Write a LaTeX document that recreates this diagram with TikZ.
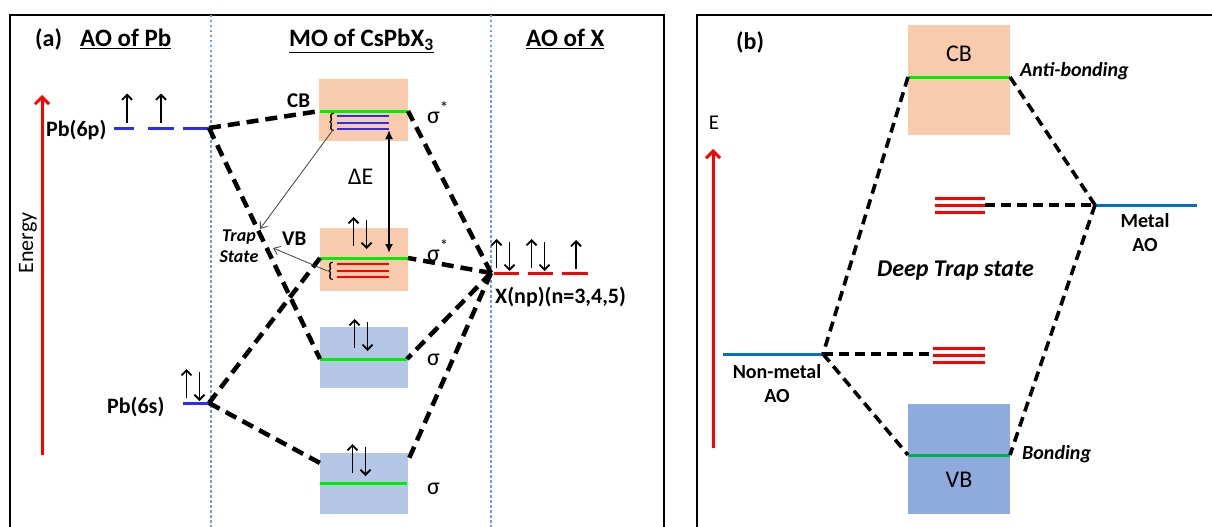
\documentclass[tikz,border=0pt]{standalone}
\usepackage{fontspec}
\setmainfont{Carlito}
\usetikzlibrary{arrows.meta}
\definecolor{boxor}{HTML}{F8CBAD}
\definecolor{boxbl}{HTML}{B4C7E7}
\definecolor{boxbd}{HTML}{8FAADC}
\definecolor{lgreen}{HTML}{00EE00}
\definecolor{dgreen}{HTML}{00B050}
\definecolor{lvblue}{HTML}{2B2BFF}
\definecolor{aoblue}{HTML}{0070C0}
\definecolor{sepblue}{HTML}{6F9BD8}
\definecolor{trapgray}{HTML}{404040}
\newcommand\fsz[1]{\fontsize{#1}{#1}\selectfont}
\begin{document}
\begin{tikzpicture}[x=1pt,y=-1pt,
  frame/.style={line width=1.6pt},
  sep/.style={sepblue, line width=1.2pt, dash pattern=on 2.5pt off 2.5pt},
  obox/.style={fill=boxor, draw=none, inner sep=0, anchor=north west},
  bbox/.style={fill=boxbl, draw=none, inner sep=0, anchor=north west},
  dbox/.style={fill=boxbd, draw=none, inner sep=0, anchor=north west},
  glev/.style={lgreen, line width=3pt},
  blev/.style={lvblue, line width=3pt},
  rlev/.style={red, line width=3pt},
  alev/.style={aoblue, line width=3pt},
  conA/.style={line width=4.5pt, dash pattern=on 12pt off 7pt},
  conB/.style={line width=3.6pt, dash pattern=on 10pt off 6pt},
  earrow/.style={red, line width=3pt, -{Straight Barb[length=7pt,width=14pt]}},
  spin/.style={line width=1.8pt, -{Straight Barb[length=5pt,width=10pt]}},
  traparr/.style={trapgray, line width=0.8pt, -{Straight Barb[length=6pt,width=9pt]}},
  gap/.style={line width=2pt, {Latex[length=9pt,width=8pt]}-{Latex[length=9pt,width=8pt]}},
  lab/.style={inner sep=0, anchor=base west},
  pics/up/.style={code={\draw[spin] (0,14) -- (0,-15);}},
  pics/ud/.style={code={\draw[spin] (-6.5,13) -- (-6.5,-16); \draw[spin] (6.5,-13) -- (6.5,16);}}
]
\useasboundingbox (0,0) rectangle (1212,527);
% frames
\draw[frame] (10,527) -- (10,15) -- (664,15) -- (664,527);
\draw[frame] (697,527) -- (697,15) -- (1213,15);
% separators
\draw[sep] (211,15) -- (211,527);
\draw[sep] (491,15) -- (491,527);

% ===== panel (a) boxes
\node[obox, minimum width=89pt, minimum height=62pt] (cbA) at (319,79) {};
\node[obox, minimum width=88pt, minimum height=63pt] (vbA) at (320,228) {};
\node[bbox, minimum width=88pt, minimum height=61pt] (sgA) at (320,327) {};
\node[bbox, minimum width=88pt, minimum height=61pt] (sgB) at (320,453) {};

% coordinates
\coordinate (p6) at (209,128);
\coordinate (s6) at (209,403);
\coordinate (xj) at (491,273);
\coordinate (cbL) at (320,111);
\coordinate (cbR) at (408,111);
\coordinate (vbL) at (320,258);
\coordinate (vbR) at (408,258);
\coordinate (mdL) at (320,359);
\coordinate (mdR) at (407,359);
\coordinate (btL) at (320,463);
\coordinate (btR) at (407,463);

% levels
\draw[glev] (cbL) -- (cbR);
\draw[glev] (vbL) -- (vbR);
\draw[glev] (mdL) -- (mdR);
\draw[glev] (320,483) -- (407,483);
\foreach \yy in {116,123,129} \draw[blev, line width=2.4pt] (337,\yy) -- (389,\yy);
\foreach \yy in {264,271,277} \draw[rlev, line width=2.4pt] (337,\yy) -- (389,\yy);
\draw[blev] (114,128) -- (134,128);
\draw[blev] (148,128) -- (174,128);
\draw[blev] (183,128) -- (p6);
\draw[blev] (183,403) -- (s6);
\draw[rlev] (xj) ++(3,0) -- (519,273);
\draw[rlev] (528,273) -- (553,273);
\draw[rlev] (562,273) -- (588,273);

% connectors (a)
\draw[conA] (p6) -- (cbL);
\draw[conA] (p6) -- (mdL);
\draw[conA] (s6) -- (vbL);
\draw[conA] (s6) -- (btL);
\draw[conA] (xj) -- (cbR);
\draw[conA] (xj) -- (vbR);
\draw[conA] (xj) -- (mdR);
\draw[conA] (xj) -- (btR);

% spins
\pic at (127,108.5) {up};
\pic at (161,108.5) {up};
\pic at (193,385) {ud};
\pic at (360,233) {ud};
\pic at (361,335) {ud};
\pic at (359,460) {ud};
\pic at (503,255) {ud};
\pic at (538,255) {ud};
\pic at (576,255) {up};

% energy arrow
\coordinate (eA0) at (42,455);
\coordinate (eA1) at (42,95);
\draw[earrow] (eA0) -- (eA1);
\node[rotate=90, font=\fsz{22}, inner sep=0] (en) at (28,243) {Energy};

% band gap
\coordinate (g0) at (389,130);
\coordinate (g1) at (389,253);
\draw[gap] (g0) -- (g1);
\node[lab, font=\fsz{24}] (dE) at (348,184) {ΔE};

% braces and trap arrows
\node[font=\fsz{21}, inner sep=0] (brC) at (332,122) {\{};
\node[font=\fsz{21}, inner sep=0] (brV) at (331,271) {\{};
\node[font=\fsz{18}\bfseries\itshape, align=center, inner sep=0] (trap) at (239,246) {Trap\\[3pt]State};
\draw[traparr] (brC.south) -- (260,229);
\draw[traparr] (brV.west) -- (273,248);

% labels (a)
\node[lab, font=\fsz{24}\bfseries] (ta) at (35,47) {(a)};
\node[lab, font=\fsz{25}\bfseries] (t1) at (80,47) {\underline{AO of Pb}};
\node[lab, font=\fsz{25}\bfseries] (t2) at (289,47) {\underline{MO of CsPbX\textsubscript{3}}};
\node[lab, font=\fsz{25}\bfseries] (t3) at (526,47) {\underline{AO of X}};
\node[lab, font=\fsz{22}\bfseries] (l6p) at (46,136) {Pb(6p)};
\node[lab, font=\fsz{22}\bfseries] (l6s) at (107,413) {Pb(6s)};
\node[lab, font=\fsz{22}\bfseries] (lx) at (495,303) {X(np)(n=3,4,5)};
\node[lab, font=\fsz{21}\bfseries] (lcb) at (287,107) {CB};
\node[lab, font=\fsz{21}\bfseries] (lvb) at (282,245) {VB};
\node[lab, font=\fsz{24}] (s1) at (427,123) {σ\textsuperscript{*}};
\node[lab, font=\fsz{24}] (s2) at (427,261) {σ\textsuperscript{*}};
\node[lab, font=\fsz{24}] (s3) at (427,365) {σ};
\node[lab, font=\fsz{24}] (s4) at (427,494) {σ};

% ===== panel (b)
\node[obox, minimum width=102pt, minimum height=110pt] (cbB) at (908,25) {};
\node[dbox, minimum width=102pt, minimum height=110pt] (vbB) at (908,404) {};
\coordinate (cbBL) at (908,77);
\coordinate (cbBR) at (1010,77);
\coordinate (vbBL) at (908,455);
\coordinate (vbBR) at (1010,455);
\coordinate (mj) at (1095,205);
\coordinate (nj) at (823,354);
\coordinate (tT) at (985,205);
\coordinate (tB) at (933,354);
\draw[glev] (cbBL) -- (cbBR);
\draw[dgreen, line width=3pt] (vbBL) -- (vbBR);
\draw[alev] (mj) -- (1197,205);
\draw[alev] (723,354) -- (nj);
\foreach \yy in {198,205,212} \draw[rlev] (935,\yy) -- (985,\yy);
\foreach \yy in {348,355,362} \draw[rlev] (933,\yy) -- (985,\yy);
\draw[conB] (cbBL) -- (nj);
\draw[conB] (cbBR) -- (mj);
\draw[conB] (tT) -- (mj);
\draw[conB] (nj) -- (tB);
\draw[conB] (nj) -- (vbBL);
\draw[conB] (mj) -- (vbBR);
\coordinate (eB0) at (713,448);
\coordinate (eB1) at (713,149);
\draw[earrow] (eB0) -- (eB1);
\node[font=\fsz{21}, inner sep=0, anchor=base] (lE) at (714,129) {E};
\node[lab, font=\fsz{24}\bfseries] (tb) at (736,49) {(b)};
\node[font=\fsz{24}, inner sep=0, anchor=base] (lcbB) at (959,62) {CB};
\node[font=\fsz{24}, inner sep=0, anchor=base] (lvbB) at (959,487) {VB};
\node[lab, font=\fsz{20}\bfseries\itshape] (ab) at (1020,77) {Anti-bonding};
\node[lab, font=\fsz{20}\bfseries\itshape] (bo) at (1022,459) {Bonding};
\node[lab, font=\fsz{24}\bfseries\itshape] (dts) at (877,276) {Deep Trap state};
\node[font=\fsz{20}\bfseries, align=center, inner sep=0, anchor=north] (lm) at (1145,213) {Metal\\[4pt]AO};
\node[font=\fsz{20}\bfseries, align=center, inner sep=0, anchor=north] (lnm) at (777,364) {Non-metal\\[4pt]AO};
\end{tikzpicture}
\end{document}
